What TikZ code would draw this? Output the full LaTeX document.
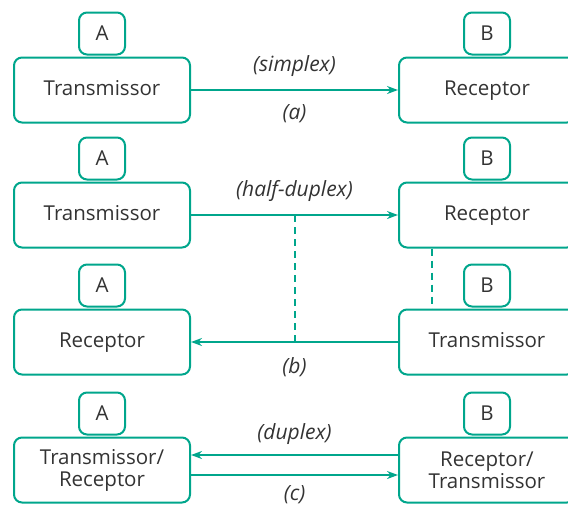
\documentclass[tikz,border=0pt]{standalone}
\usepackage{fontspec}
\setmainfont{Open Sans}
\usepackage{xcolor}
\usetikzlibrary{arrows.meta, positioning}
\definecolor{linkgreen}{RGB}{0,166,140}
\tikzstyle{station} = [rectangle, rounded corners=8pt, minimum width=176pt, minimum height=65pt, align=center, text height=15pt, text depth=5pt, draw=linkgreen, line width=2pt, text=black!80, font=\fontsize{20.5}{24}\selectfont]
\tikzstyle{tag} = [rectangle, rounded corners=8pt, minimum width=46pt, minimum height=42pt, draw=linkgreen, line width=2pt, text=black!80, font=\fontsize{20.5}{24}\selectfont]
\tikzstyle{arrow} = [draw=linkgreen, line width=2pt, -{Stealth[length=11pt,width=8pt,fill=linkgreen]}]
\tikzstyle{link} = [draw=linkgreen, line width=2pt, dash pattern=on 7pt off 5pt]
\tikzstyle{mode} = [inner sep=0pt, text=black!80, font=\fontsize{21}{24}\selectfont\itshape]

\begin{document}
\begin{tikzpicture}[x=1pt, y=-1pt]
\useasboundingbox (0,0) rectangle (568,507);
% (a) simplex
\node (txa) [station] at (102,90) {Transmissor};
\node (rxa) [station] at (487,90) {Receptor};
\node (taga) [tag, above=1pt of txa] {A};
\node (tagb) [tag, above=1pt of rxa] {B};

% (b) half-duplex
\node (txb) [station] at (102,215) {Transmissor};
\node (rxb) [station] at (487,215) {Receptor};
\node (rxb2) [station] at (102,342) {Receptor};
\node (txb2) [station] at (487,342) {Transmissor};
\node [tag, above=1pt of txb] {A};
\node [tag, above=1pt of rxb] {B};
\node [tag, above=1pt of rxb2] {A};
\node (tagb2) [tag, above=1pt of txb2] {B};

% (c) duplex
\node (trc) [station, text height=, text depth=] at (102,470) {Transmissor/\\[-2pt]Receptor};
\node (rtc) [station, text height=, text depth=] at (487,470) {Receptor/\\[-2pt]Transmissor};
\node [tag, above=1pt of trc] {A};
\node [tag, above=1pt of rtc] {B};

% Arrows
\draw [arrow] (txa) -- node[mode, above=12pt] {(simplex)} node[mode, below=14pt] {(a)} (rxa);
\draw [arrow] (txb) -- node[mode, above=12pt] {(half-duplex)} coordinate[midway] (mb) (rxb);
\draw [arrow] (txb2) -- node[mode, below=15pt] {(b)} coordinate[midway] (mb2) (rxb2);
\draw [link] (mb) -- (mb2);
\draw [link] ([xshift=-55pt]rxb.south) -- ([xshift=-55pt]txb2.north);
\draw [arrow] ([yshift=15pt]rtc.west) -- node[mode, above=9pt] {(duplex)} ([yshift=15pt]trc.east);
\draw [arrow] ([yshift=-5pt]trc.east) -- node[mode, below=10pt] {(c)} ([yshift=-5pt]rtc.west);
\end{tikzpicture}
\end{document}
